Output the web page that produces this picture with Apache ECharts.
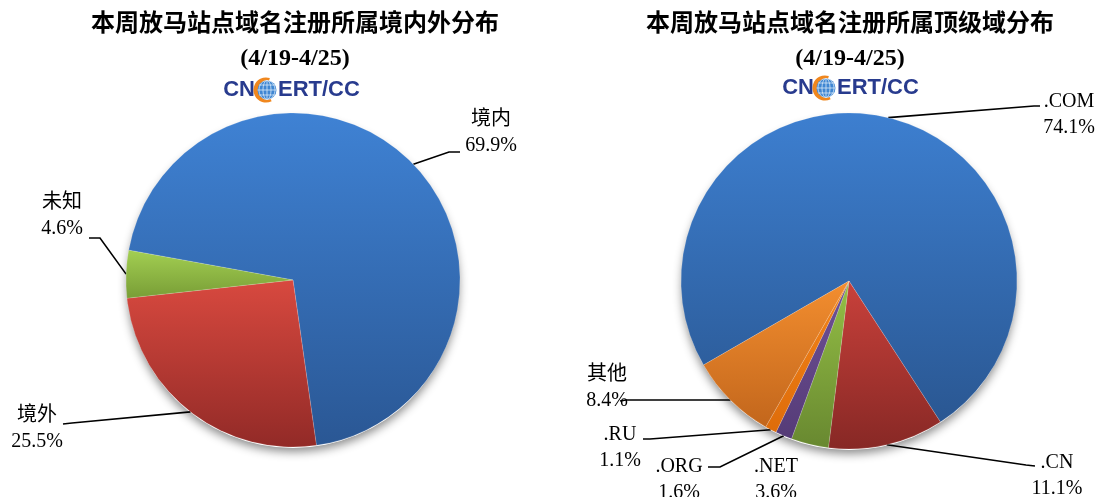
<!DOCTYPE html>
<html><head><meta charset="utf-8">
<script src="https://cdn.jsdelivr.net/npm/echarts@6/dist/echarts.min.js"></script>
<style>html,body{margin:0;padding:0;background:#fff}#c{width:1100px;height:497px}</style>
</head><body><div id="c"></div>
<script>
// ---- data ----
const leftTitle = '本周放马站点域名注册所属境内外分布';
const rightTitle = '本周放马站点域名注册所属顶级域分布';
const dateRange = '(4/19-4/25)';
const leftNames = ['境内', '境外', '未知'];
const leftValues = [69.9, 25.5, 4.6];
const rightNames = ['.COM', '.CN', '.NET', '.ORG', '.RU', '其他'];
const rightValues = [74.1, 11.1, 3.6, 1.6, 1.1, 8.4];

// ---- styles / layout ----
const leftColors = [['#3f82d4', '#2a5794'], ['#d8493f', '#922a27'], ['#a3cf52', '#789d36']];
const rightColors = [['#3d7fd0', '#2a5792'], ['#c9413b', '#872825'], ['#95c046', '#688830'],
                     ['#6f5297', '#553b77'], ['#f4851a', '#de6c0a'], ['#f38e2f', '#c2661c']];
const leftCenter = [293, 280], leftR = 167, leftStart = 169.7;
const rightCenter = [849, 281], rightR = 168, rightStart = 210;
const leftLabelPos = [[491, 107], [37, 403], [62, 190]];
const leftLines = [[[449, 152], [460, 152]], [[72, 423], [63, 424]], [[100, 238], [89, 238]]];
const rightLabelPos = [[1069, 89], [1057, 450], [776, 454], [679, 454], [620, 422], [607, 362]];
const rightLines = [[[1034, 106], [1040, 106]], [[1026, 465], [1035, 466]], null,
                    [[720, 467], [708, 467]], [[650, 439], [643, 439]], [[626, 400], [620, 401]]];

const FONT = "'Liberation Serif','Noto Sans CJK SC',serif";

function makeData(names, values, colors, noLine) {
  return names.map((n, i) => ({
    name: n, value: values[i],
    itemStyle: { color: { type: 'linear', x: 0, y: 0, x2: 0, y2: 1,
      colorStops: [{ offset: 0, color: colors[i][0] }, { offset: 1, color: colors[i][1] }] } },
    labelLine: { show: !(noLine && noLine[i]) }
  }));
}

function makeLayout(values, center, r, start, pos, lines) {
  const total = values.reduce((a, b) => a + b, 0);
  return function (params) {
    const i = params.dataIndex;
    let cum = 0;
    for (let k = 0; k < i; k++) cum += values[k];
    const a = (start - 360 * (cum + values[i] / 2) / total) * Math.PI / 180;
    const anchor = [center[0] + r * Math.cos(a), center[1] - r * Math.sin(a)];
    const out = { x: pos[i][0], y: pos[i][1], align: 'center', verticalAlign: 'top' };
    if (lines[i]) out.labelLinePoints = [anchor].concat(lines[i]);
    return out;
  };
}

function pieSeries(names, values, colors, center, r, start, pos, lines) {
  return {
    type: 'pie', center: center, radius: r, startAngle: start, clockwise: true,
    avoidLabelOverlap: false, animation: false, silent: true,
    itemStyle: { borderColor: 'rgba(255,255,255,0.3)', borderWidth: 0.5 },
    label: { show: true, position: 'outside', color: '#000', fontFamily: FONT, fontSize: 20,
      lineHeight: 26, align: 'center',
      formatter: p => p.name + '\n' + p.value.toFixed(1) + '%' },
    labelLine: { show: true, lineStyle: { color: '#000', width: 1.6 } },
    labelLayout: makeLayout(values, center, r, start, pos, lines),
    data: makeData(names, values, colors, lines.map(l => !l))
  };
}

function logo(gx, gy) {
  const navy = '#283b8e';
  return [
    { type: 'text', x: gx - 11, y: gy, style: { text: 'CN', fill: navy, font: "bold 22px 'Liberation Sans', Arial", textAlign: 'right', textVerticalAlign: 'middle' } },
    { type: 'text', x: gx + 12, y: gy, style: { text: 'ERT/CC', fill: navy, font: "bold 22px 'Liberation Sans', Arial", textAlign: 'left', textVerticalAlign: 'middle' } },
    { type: 'sector', shape: { cx: gx, cy: gy, r0: 8, r: 12.5, startAngle: Math.PI * 0.35, endAngle: Math.PI * 1.6, clockwise: true }, style: { fill: '#f0871e' } },
    { type: 'circle', shape: { cx: gx + 1, cy: gy, r: 9.5 }, style: { fill: '#3f86d2' } },
    { type: 'ellipse', shape: { cx: gx + 1, cy: gy, rx: 4, ry: 9.5 }, style: { fill: 'none', stroke: '#d8e8f8', lineWidth: 0.8 } },
    { type: 'ellipse', shape: { cx: gx + 1, cy: gy, rx: 8, ry: 9.5 }, style: { fill: 'none', stroke: '#d8e8f8', lineWidth: 0.8 } },
    { type: 'line', shape: { x1: gx + 1, y1: gy - 9.5, x2: gx + 1, y2: gy + 9.5 }, style: { stroke: '#d8e8f8', lineWidth: 0.8 } },
    { type: 'line', shape: { x1: gx - 8.5, y1: gy, x2: gx + 10.5, y2: gy }, style: { stroke: '#d8e8f8', lineWidth: 0.8 } },
    { type: 'line', shape: { x1: gx - 7, y1: gy - 5, x2: gx + 9, y2: gy - 5 }, style: { stroke: '#d8e8f8', lineWidth: 0.8 } },
    { type: 'line', shape: { x1: gx - 7, y1: gy + 5, x2: gx + 9, y2: gy + 5 }, style: { stroke: '#d8e8f8', lineWidth: 0.8 } }
  ];
}

function shadowDisk(c, r) {
  return { type: 'circle', z: -1, shape: { cx: c[0], cy: c[1] + 2, r: r - 1 },
    style: { fill: '#fff', shadowBlur: 10, shadowOffsetY: 4, shadowColor: 'rgba(0,0,0,0.45)' } };
}

const chart = echarts.init(document.getElementById('c'), null, { renderer: 'canvas' });
const titleStyle = { fontFamily: FONT, fontWeight: 'bold', fontSize: 24, color: '#000', lineHeight: 34 };
chart.setOption({
  backgroundColor: '#fff',
  animation: false,
  title: [
    { text: leftTitle + '\n' + dateRange, left: 295, top: 8, textAlign: 'center', textStyle: titleStyle, padding: 0 },
    { text: rightTitle + '\n' + dateRange, left: 850, top: 8, textAlign: 'center', textStyle: titleStyle, padding: 0 }
  ],
  graphic: [shadowDisk(leftCenter, leftR), shadowDisk(rightCenter, rightR)]
    .concat(logo(266, 90)).concat(logo(825, 88)),
  series: [
    pieSeries(leftNames, leftValues, leftColors, leftCenter, leftR, leftStart, leftLabelPos, leftLines),
    pieSeries(rightNames, rightValues, rightColors, rightCenter, rightR, rightStart, rightLabelPos, rightLines)
  ]
});
</script>
</body></html>
